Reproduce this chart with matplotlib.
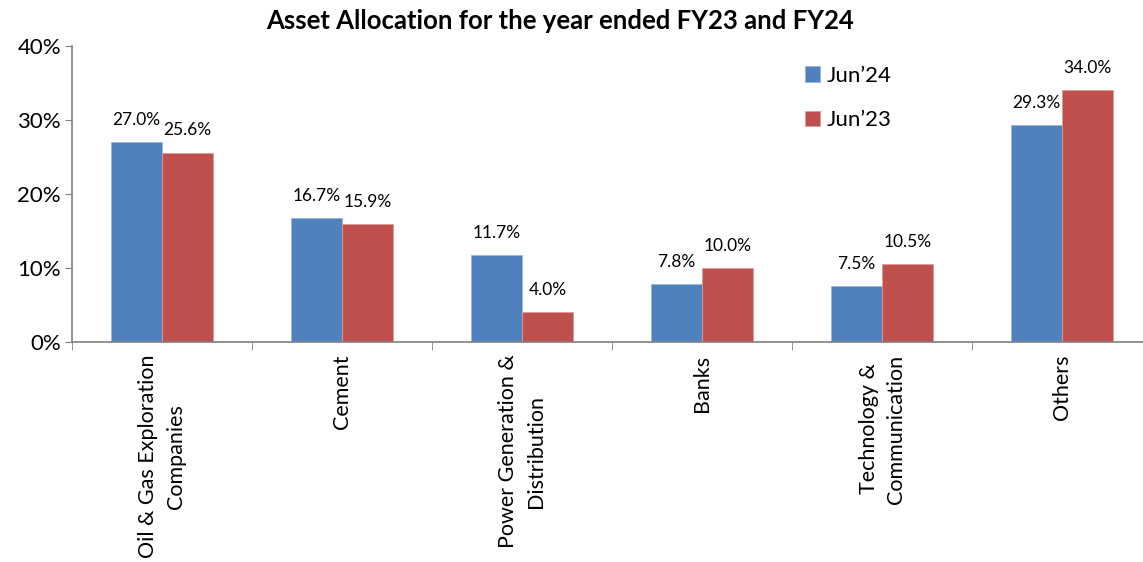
import numpy as np
import matplotlib.pyplot as plt
from matplotlib.ticker import FuncFormatter

categories = ['Oil & Gas Exploration\nCompanies', 'Cement', 'Power Generation &\nDistribution',
              'Banks', 'Technology &\nCommunication', 'Others']
jun24 = [27.0, 16.7, 11.7, 7.8, 7.5, 29.3]
jun23 = [25.6, 15.9, 4.0, 10.0, 10.5, 34.0]
yticks = [0, 10, 20, 30, 40]

plt.rcParams['font.family'] = ['Lato', 'DejaVu Sans']

fig = plt.figure(figsize=(11.43, 5.62), dpi=100)
ax = fig.add_axes([0.063, 0.3915, 0.945, 0.5267])

x = np.arange(len(categories))
w = 0.285
b1 = ax.bar(x - w/2, jun24, w, color='#4F81BD', edgecolor='#9DB6DA', linewidth=0.6, label='Jun’24')
b2 = ax.bar(x + w/2, jun23, w, color='#C0504D', edgecolor='#DE9B99', linewidth=0.6, label='Jun’23')

for bars, vals in ((b1, jun24), (b2, jun23)):
    for r, v in zip(bars, vals):
        ax.annotate('%.1f%%' % v, (r.get_x() + r.get_width()/2, v), xytext=(0, 16),
                    textcoords='offset points', ha='center', va='center', fontsize=12.5)

ax.set_xlim(-0.5, len(categories) - 0.5)
ax.set_ylim(0, 40)
ax.set_yticks(yticks)
ax.yaxis.set_major_formatter(FuncFormatter(lambda v, p: '%d%%' % v))
ax.tick_params(axis='y', labelsize=16, length=5, color='#808080', pad=3)

ax.set_xticks(x)
ax.set_xticklabels(categories, rotation=90, fontsize=15.5, ha='center', va='top',
                   multialignment='center', linespacing=1.45)
ax.set_xticks(np.arange(len(categories) + 1) - 0.5, minor=True)
ax.tick_params(axis='x', which='major', length=0, pad=9)
ax.tick_params(axis='x', which='minor', length=6, color='#808080')

for s in ('top', 'right'):
    ax.spines[s].set_visible(False)
for s in ('left', 'bottom'):
    ax.spines[s].set_color('#808080')
    ax.spines[s].set_linewidth(1.2)

ax.legend(loc='upper left', bbox_to_anchor=(0.66, 1.0), frameon=False, fontsize=16,
          handlelength=0.7, handleheight=0.7, handletextpad=0.3, labelspacing=1.1)

fig.text(0.49, 0.962, 'Asset Allocation for the year ended FY23 and FY24', ha='center', va='center',
         fontsize=18.5, fontweight='bold')

fig.savefig('out.png', dpi=100)
